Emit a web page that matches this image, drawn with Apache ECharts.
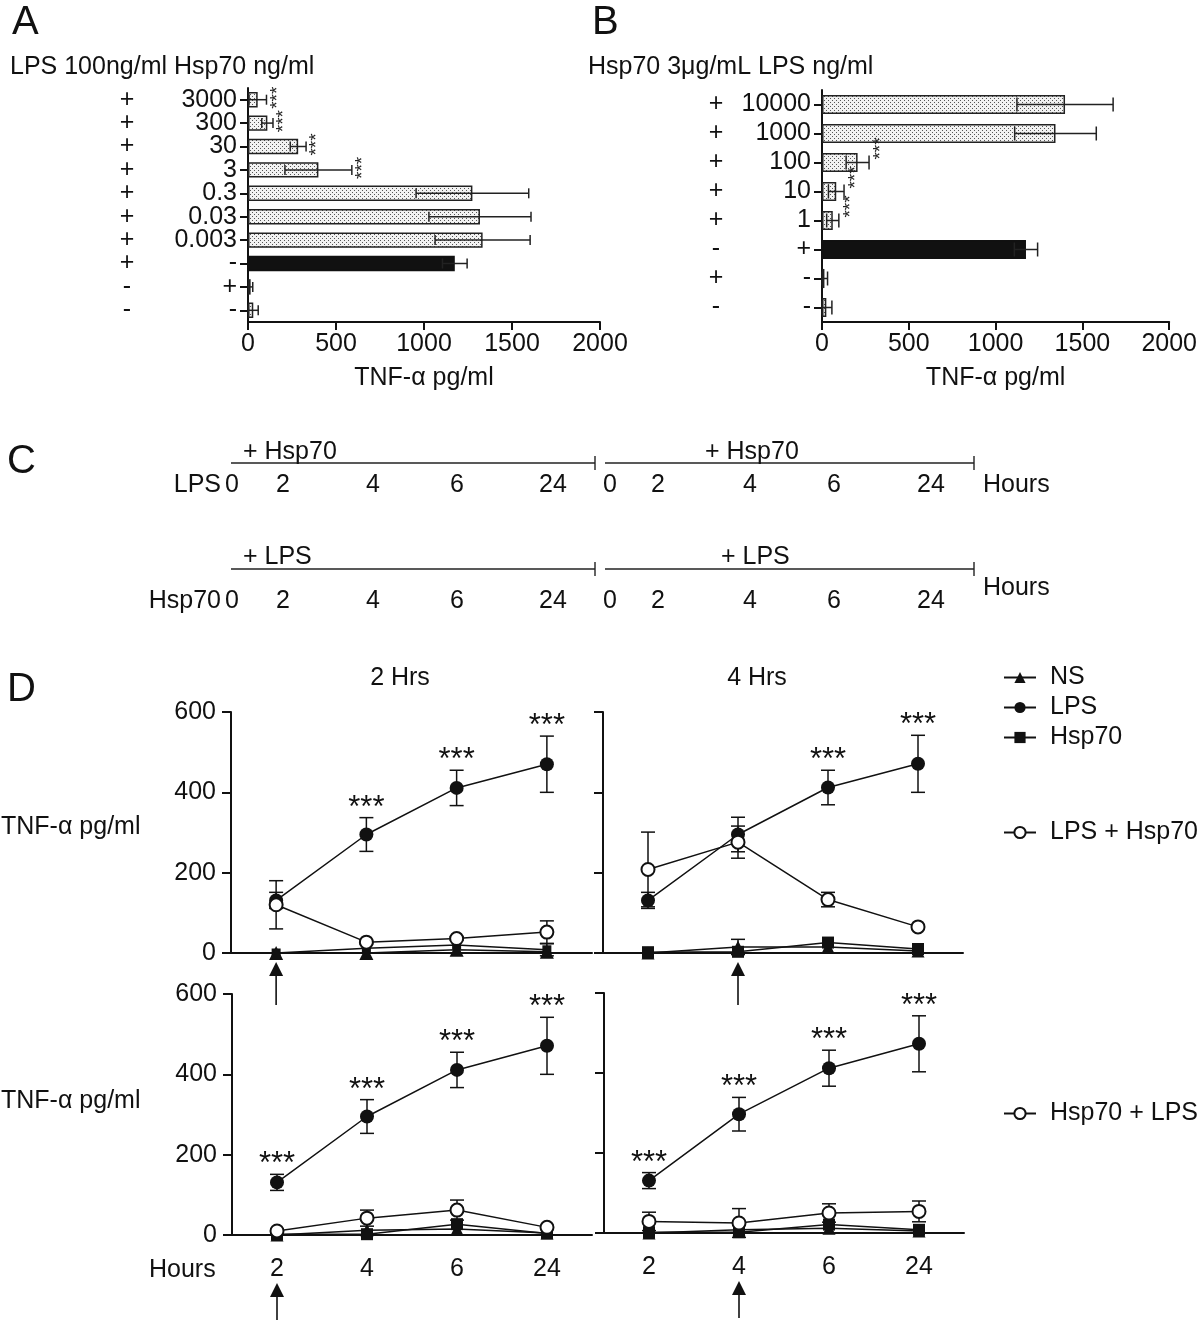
<!DOCTYPE html>
<html><head><meta charset="utf-8">
<script src="https://cdn.jsdelivr.net/npm/echarts@6/dist/echarts.min.js"></script>
<style>html,body{margin:0;padding:0;background:#fff}#c{width:1200px;height:1325px}</style>
</head><body><div id="c"></div>
<script>
// ---------- Panel A ----------
const aHsp70Labels = ['3000','300','30','3','0.3','0.03','0.003','-','+','-'];
const aLpsLabels   = ['+','+','+','+','+','+','+','+','-','-'];
const aValues      = [55,110,285,400,1275,1318,1333,1175,15,30];
const aErrors      = [50,32,45,190,320,290,270,70,12,28];
const aSig         = [1,1,1,1,0,0,0,0,0,0];
const aControlRow  = 7;
// ---------- Panel B ----------
const bLpsLabels   = ['10000','1000','100','10','1','+','-','-'];
const bHsp70Labels = ['+','+','+','+','+','-','+','-'];
const bValues      = [1400,1345,205,82,62,1175,14,25];
const bErrors      = [277,235,66,45,35,67,18,32];
const bSig         = [0,0,1,1,1,0,0,0];
const bControlRow  = 5;
const barTicks     = {min:0, max:2000, interval:500};
// ---------- Panel C ----------
const cTimes = ['0','2','4','6','24'];
// ---------- Panel D ----------
const hours = ['2','4','6','24'];
// 2 Hrs, LPS + Hsp70
const tlNS = [0,0,8,3],   tlNSErr = [0,0,0,0];
const tlHsp70 = [0,12,20,8], tlHsp70Err = [0,0,0,15];
const tlLPS = [131,295,411,470], tlLPSErr = [20,42,44,70];
const tlCombo = [120,27,36,52], tlComboErr = [60,4,4,28];
const tlSig = [0,1,1,1];
// 4 Hrs, LPS + Hsp70
const trNS = [0,15,15,5], trNSErr = [0,19,0,0];
const trHsp70 = [2,3,26,10], trHsp70Err = [0,0,0,0];
const trLPS = [131,295,412,471], trLPSErr = [20,43,43,71];
const trCombo = [208,276,133,65], trComboErr = [93,40,18,4];
const trSig = [0,0,1,1];
// 2 Hrs, Hsp70 + LPS
const blNS = [0,12,15,5], blNSErr = [0,0,0,0];
const blHsp70 = [2,2,27,4], blHsp70Err = [0,0,0,0];
const blLPS = [131,295,411,471], blLPSErr = [20,42,44,71];
const blCombo = [10,42,62,19], blComboErr = [5,20,25,5];
const blSig = [1,1,1,1];
// 4 Hrs, Hsp70 + LPS
const brNS = [0,8,12,5], brNSErr = [0,0,0,0];
const brHsp70 = [2,2,21,8], brHsp70Err = [0,0,0,0];
const brLPS = [131,297,412,473], brLPSErr = [20,42,45,70];
const brCombo = [29,25,50,54], brComboErr = [23,36,23,26];
const brSig = [1,1,1,1];
const dTicks = {min:0, max:600, interval:200};

const FONT = "'Liberation Sans', Arial, Helvetica, sans-serif";
const INK = '#111';
const FS = 25;

// stipple pattern for bars
const pc = document.createElement('canvas'); pc.width = 4; pc.height = 4;
const pg = pc.getContext('2d');
pg.fillStyle = '#f2f2f2'; pg.fillRect(0,0,4,4);
pg.fillStyle = '#555'; pg.fillRect(0,0,1,1); pg.fillRect(2,2,1,1);
const stipple = {image: pc, repeat: 'repeat'};

const chart = echarts.init(document.getElementById('c'), null, {renderer:'canvas'});

function hErr(capHalf){
  return function(params, api){
    const v = api.value(0), c = api.value(1), e = api.value(2);
    const a = api.coord([Math.max(0, v - e), c]), b = api.coord([v + e, c]);
    const st = {stroke:'#222', lineWidth:1.5};
    return {type:'group', children:[
      {type:'line', shape:{x1:a[0],y1:a[1],x2:b[0],y2:b[1]}, style:st},
      {type:'line', shape:{x1:a[0],y1:a[1]-capHalf,x2:a[0],y2:a[1]+capHalf}, style:st},
      {type:'line', shape:{x1:b[0],y1:b[1]-capHalf,x2:b[0],y2:b[1]+capHalf}, style:st}
    ]};
  };
}
function vErr(params, api){
  const c = api.value(0), v = api.value(1), e = api.value(2);
  if (!e) return null;
  const a = api.coord([c, v - e]), b = api.coord([c, v + e]);
  const st = {stroke:INK, lineWidth:1.5};
  return {type:'group', children:[
    {type:'line', shape:{x1:a[0],y1:a[1],x2:b[0],y2:b[1]}, style:st},
    {type:'line', shape:{x1:a[0]-7,y1:a[1],x2:a[0]+7,y2:a[1]}, style:st},
    {type:'line', shape:{x1:b[0]-7,y1:b[1],x2:b[0]+7,y2:b[1]}, style:st}
  ]};
}
function vStars(dx, dy){
  return function(params, api){
    const p = api.coord([api.value(0), api.value(1)]);
    return {type:'text', x:p[0]+dx, y:p[1]+dy, rotation:Math.PI/2,
      style:{text:'***', fontSize:19, fontFamily:FONT, fill:'#222', align:'center', verticalAlign:'middle'}};
  };
}
function topStars(params, api){
  const p = api.coord([api.value(0), api.value(1)]);
  return {type:'text', x:p[0], y:p[1]+6,
    style:{text:'***', fontSize:31, fontFamily:FONT, fill:INK, align:'center', verticalAlign:'bottom'}};
}
function arrow(tip, tail){
  return function(params, api){
    const p = api.coord([api.value(0), 0]);
    const x = p[0], y = p[1];
    return {type:'group', children:[
      {type:'line', shape:{x1:x,y1:y+tip+12,x2:x,y2:y+tail}, style:{stroke:INK, lineWidth:1.6}},
      {type:'polygon', shape:{points:[[x,y+tip],[x-7,y+tip+14],[x+7,y+tip+14]]}, style:{fill:INK}}
    ]};
  };
}

const grids = [
  {left:248, top:88, width:352, height:234},
  {left:822, top:90, width:350, height:232},
  {left:231, top:712, width:361, height:241},
  {left:603, top:712, width:360, height:241},
  {left:232, top:994, width:360, height:241},
  {left:604, top:993, width:360, height:240}
];
const axisLineStyle = {lineStyle:{color:INK, width:2}};
const labelStyle = {color:INK, fontSize:FS, fontFamily:FONT};

const xAxes = [], yAxes = [], series = [];

// ----- Bar panels -----
function barPanel(gi, mainLabels, sideLabels, sideOffset, values, errs, sig, ctrl, capHalf, sdx, sdy){
  const xi = xAxes.length, yi = yAxes.length;
  xAxes.push({type:'value', gridIndex:gi, min:barTicks.min, max:barTicks.max, interval:barTicks.interval,
    axisLine:{show:true, ...axisLineStyle}, axisTick:{show:true, length:8, lineStyle:{color:INK,width:2}},
    splitLine:{show:false}, axisLabel:{...labelStyle, margin:10, formatter: v => String(v)},
    name:'TNF-α pg/ml', nameLocation:'middle', nameGap:44, nameTextStyle:{...labelStyle}});
  yAxes.push({type:'category', gridIndex:gi, data:mainLabels, inverse:true,
    axisLine:{show:true, ...axisLineStyle}, axisTick:{show:true, alignWithLabel:true, interval:0, length:8, lineStyle:{color:INK,width:2}},
    axisLabel:{...labelStyle, margin:11, interval:0}});
  yAxes.push({type:'category', gridIndex:gi, data:sideLabels, inverse:true, offset:sideOffset, position:'left',
    axisLine:{show:false}, axisTick:{show:false}, axisLabel:{...labelStyle, margin:0, align:'center', interval:0}});
  series.push({type:'bar', xAxisIndex:xi, yAxisIndex:yi, barWidth:'66%',
    data: values.map((v,i)=>({value:v, itemStyle: i===ctrl ? {color:INK, borderColor:INK, borderWidth:1.5} : {color:stipple, borderColor:'#222', borderWidth:1.5}})),
    z:2});
  series.push({type:'custom', xAxisIndex:xi, yAxisIndex:yi, renderItem:hErr(capHalf), z:3,
    encode:{x:0, y:1}, data: values.map((v,i)=>[v, i, errs[i]])});
  series.push({type:'custom', xAxisIndex:xi, yAxisIndex:yi, renderItem:vStars(sdx, sdy), z:3,
    encode:{x:0, y:1}, data: values.map((v,i)=>sig[i] ? [v+errs[i], i] : null).filter(d=>d)});
}
barPanel(0, aHsp70Labels, aLpsLabels, 121, aValues, aErrors, aSig, aControlRow, 5, 11, -2);
barPanel(1, bLpsLabels, bHsp70Labels, 106, bValues, bErrors, bSig, bControlRow, 7, 12, -14);

// ----- Time course panels -----
const dPanels = [
  {ns:tlNS, nsE:tlNSErr, hsp:tlHsp70, hspE:tlHsp70Err, lps:tlLPS, lpsE:tlLPSErr, combo:tlCombo, comboE:tlComboErr, sig:tlSig, name:'LPS + Hsp70', arrow:0, labels:false, ylabels:true, nsTop:true},
  {ns:trNS, nsE:trNSErr, hsp:trHsp70, hspE:trHsp70Err, lps:trLPS, lpsE:trLPSErr, combo:trCombo, comboE:trComboErr, sig:trSig, name:'LPS + Hsp70', arrow:1, labels:false, ylabels:false, nsTop:false},
  {ns:blNS, nsE:blNSErr, hsp:blHsp70, hspE:blHsp70Err, lps:blLPS, lpsE:blLPSErr, combo:blCombo, comboE:blComboErr, sig:blSig, name:'Hsp70 + LPS', arrow:0, labels:true, ylabels:true, nsTop:false},
  {ns:brNS, nsE:brNSErr, hsp:brHsp70, hspE:brHsp70Err, lps:brLPS, lpsE:brLPSErr, combo:brCombo, comboE:brComboErr, sig:brSig, name:'Hsp70 + LPS', arrow:1, labels:true, ylabels:false, nsTop:false}
];
dPanels.forEach((p, k) => {
  const gi = 2 + k, xi = xAxes.length, yi = yAxes.length;
  xAxes.push({type:'category', gridIndex:gi, data:hours, boundaryGap:true,
    axisLine:{show:true, onZero:false, ...axisLineStyle}, axisTick:{show:false},
    axisLabel:{show:p.labels, ...labelStyle, margin:22, interval:0}});
  yAxes.push({type:'value', gridIndex:gi, min:dTicks.min, max:dTicks.max, interval:dTicks.interval,
    axisLine:{show:true, ...axisLineStyle}, axisTick:{show:true, length:9, lineStyle:{color:INK,width:2}},
    splitLine:{show:false}, axisLabel:{show:p.ylabels, ...labelStyle, margin:15}});
  const base = {type:'line', xAxisIndex:xi, yAxisIndex:yi, color:INK, lineStyle:{color:INK, width:1.5}, itemStyle:{color:INK}};
  series.push({...base, name:'NS', symbol:'triangle', symbolSize: p.nsTop ? 14 : 13, data:p.ns, z: p.nsTop ? 4 : 3});
  series.push({...base, name:'Hsp70', symbol:'rect', symbolSize: p.nsTop ? 9 : 12, data:p.hsp, z: p.nsTop ? 3 : 4});
  series.push({...base, name:'LPS', symbol:'circle', symbolSize:14, data:p.lps, z:5});
  series.push({...base, name:p.name, symbol:'emptyCircle', symbolSize:13, data:p.combo, z:6,
    itemStyle:{color:INK, borderColor:INK, borderWidth:2}});
  [[p.ns,p.nsE],[p.hsp,p.hspE],[p.lps,p.lpsE],[p.combo,p.comboE]].forEach(([v,e]) => {
    series.push({type:'custom', xAxisIndex:xi, yAxisIndex:yi, renderItem:vErr, z:2, encode:{x:0,y:1},
      data: v.map((val,i)=>[i, val, e[i]])});
  });
  series.push({type:'custom', xAxisIndex:xi, yAxisIndex:yi, renderItem:topStars, z:7, encode:{x:0,y:1},
    data: p.lps.map((v,i)=>p.sig[i] ? [i, v + p.lpsE[i]] : null).filter(d=>d)});
  series.push({type:'custom', xAxisIndex:xi, yAxisIndex:yi, renderItem: p.labels ? arrow(48,85) : arrow(9,52), z:7,
    clip:false, encode:{x:0,y:1}, data:[[p.arrow, 0]]});
});

// ----- Graphic text / panel C -----
const T = (text, x, y, opt={}) => ({type:'text', x, y, style:{text, fontSize:opt.fs||FS, fontFamily:FONT, fill:INK,
  align:opt.align||'left', verticalAlign:'middle'}});
const L = (x1,y1,x2,y2) => ({type:'line', shape:{x1,y1,x2,y2}, style:{stroke:'#222', lineWidth:1.4}});
const g = [];
g.push(T('A', 12, 23, {fs:40}), T('B', 592, 23, {fs:40}), T('C', 7, 462, {fs:40}), T('D', 7, 690, {fs:40}));
g.push(T('LPS 100ng/ml Hsp70 ng/ml', 10, 67), T('Hsp70 3μg/mL LPS ng/ml', 588, 67));
// panel C
const cX1 = [232,283,373,457,553], cX2 = [610,658,750,834,931];
[[463,'+ Hsp70','+ Hsp70',452,705,'LPS',485,485],[569,'+ LPS','+ LPS',557,721,'Hsp70',601,588]].forEach(r => {
  const [ly, t1, t2, ty, tx2, lab, ry, hy] = r;
  g.push(L(231,ly,595,ly), L(595,ly-7,595,ly+7), L(605,ly,974,ly), L(974,ly-7,974,ly+7));
  g.push(T(t1, 243, ty), T(t2, tx2, ty));
  g.push(T(lab, 221, ry, {align:'right'}));
  cTimes.forEach((t,i) => { g.push(T(t, cX1[i], ry, {align:'center'}), T(t, cX2[i], ry, {align:'center'})); });
  g.push(T('Hours', 983, hy));
});
// panel D labels
g.push(T('2 Hrs', 400, 678, {align:'center'}), T('4 Hrs', 757, 678, {align:'center'}));
g.push(T('TNF-α pg/ml', 1, 827), T('TNF-α pg/ml', 1, 1101), T('Hours', 149, 1270));

const legendBase = {orient:'vertical', left:1003, padding:0, itemWidth:32, itemHeight:14, itemGap:5, selectedMode:false,
  textStyle:{...labelStyle, padding:[0,0,0,9]}};

chart.setOption({
  animation:false,
  backgroundColor:'#fff',
  grid: grids,
  xAxis: xAxes,
  yAxis: yAxes,
  series: series,
  legend: [
    {...legendBase, top:665, data:['NS','LPS','Hsp70']},
    {...legendBase, top:820, data:['LPS + Hsp70']},
    {...legendBase, top:1101, data:['Hsp70 + LPS']}
  ],
  graphic: g
});
</script></body></html>
